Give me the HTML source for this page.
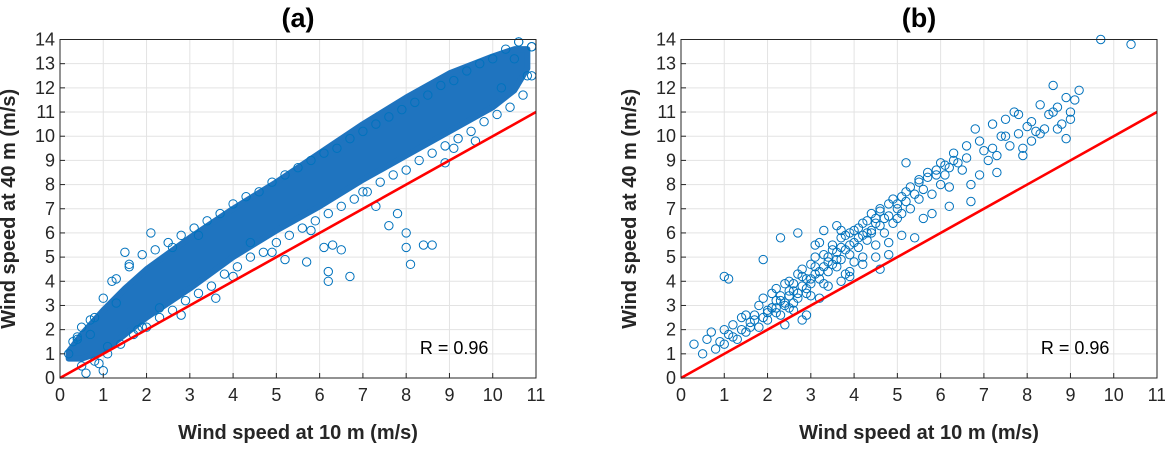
<!DOCTYPE html>
<html><head><meta charset="utf-8"><style>
body{margin:0;background:#fff;font-family:"Liberation Sans",Arial,sans-serif}
svg text{font-family:"Liberation Sans",Arial,sans-serif}
</style></head><body>
<svg id="c" width="1165" height="445" xmlns="http://www.w3.org/2000/svg"></svg>
<script>
// Panel (a) data: dense band envelope plus individual visible points
const bandX=[0.2,0.5,1,1.5,2,3,4,5,6,7,8,9,10,10.5,10.8];
const bandUpper=[1.1,1.8,2.8,3.7,4.5,5.8,7.0,8.1,9.3,10.5,11.6,12.6,13.3,13.6,13.6];
const bandLower=[0.8,0.8,1.1,1.8,2.5,3.7,5.0,6.1,7.1,8.2,9.2,10.2,11.2,11.9,12.8];
const aX=[0.2,0.3,0.5,0.6,0.8,1.0,1.2,1.5,1.6,2.1,1.3,0.9,0.4,5.2,4.4,5.7,6.1,6.3,6.2,6.2,6.7,6.5,8.1,8.0,8.4,8.6,7.8,7.6,8.0,7.3,9.1,10.5,10.9,10.8,10.2,3.2,2.6,2.8,4.0,4.9,5.8,7.0,8.9,9.6,1.1,1.8,2.3,3.6,10.6,1.9,0.7,
 0.4,0.7,1.0,1.3,1.6,1.9,2.2,2.5,2.8,3.1,3.4,3.7,4.0,4.3,4.6,4.9,5.2,5.5,5.8,6.1,6.4,6.7,7.0,7.3,7.6,7.9,8.2,8.5,8.8,9.1,9.4,9.7,10.0,10.3,10.6,10.9,
 0.5,0.8,1.1,1.4,1.7,2.0,2.3,2.6,2.9,3.2,3.5,3.8,4.1,4.4,4.7,5.0,5.3,5.6,5.9,6.2,6.5,6.8,7.1,7.4,7.7,8.0,8.3,8.6,8.9,9.2,9.5,9.8,10.1,10.4,10.7,10.9];
const aY=[1.0,1.5,2.1,0.2,2.5,0.3,4.0,5.2,4.7,6.0,3.1,0.6,1.6,4.9,5.6,4.8,5.4,5.5,4.4,4.0,4.2,5.3,4.7,5.4,5.5,5.5,6.8,6.3,6.0,7.1,9.5,13.2,13.7,12.5,12.0,5.9,5.4,2.6,4.2,5.2,6.1,7.7,8.9,9.8,1.3,2.0,2.9,3.3,13.9,2.1,1.8,
 1.7,2.4,3.3,4.1,4.6,5.1,5.3,5.6,5.9,6.2,6.5,6.8,7.2,7.5,7.7,8.1,8.4,8.7,9.0,9.3,9.5,9.9,10.2,10.5,10.8,11.1,11.4,11.7,12.1,12.3,12.7,13.0,13.2,13.6,13.9,13.7,
 0.5,0.7,1.0,1.4,1.8,2.1,2.5,2.8,3.2,3.5,3.8,4.3,4.6,5.0,5.2,5.6,5.9,6.2,6.5,6.8,7.1,7.4,7.7,8.1,8.4,8.6,9.0,9.3,9.6,9.9,10.2,10.6,10.9,11.2,11.7,12.5];
// Panel (b) data
const bX=[0.3,0.5,0.6,0.7,0.8,0.9,1.0,1.0,1.1,1.2,1.3,1.4,1.5,1.5,1.6,1.7,1.8,1.8,1.9,1.9,2.0,2.0,2.1,2.1,2.2,2.2,2.3,2.3,2.4,2.4,2.5,2.5,2.5,2.6,2.6,2.7,2.7,2.8,2.8,2.9,2.9,3.0,3.0,3.0,3.1,3.1,3.2,3.2,3.3,3.3,3.4,3.4,3.5,3.5,3.6,3.6,3.7,3.7,3.8,3.8,3.9,3.9,4.0,4.0,4.1,4.1,4.2,4.2,4.3,4.3,4.4,4.5,4.5,4.6,4.6,4.7,4.8,4.8,4.9,5.0,5.0,5.1,5.1,5.2,5.2,5.3,5.4,5.5,5.5,5.6,5.7,5.8,5.9,6.0,6.0,6.1,6.2,6.3,6.5,6.6,6.8,7.0,7.1,7.2,7.3,7.4,7.5,7.6,7.7,7.8,8.0,8.1,8.2,8.4,8.5,8.6,8.7,8.8,9.0,9.1,9.2,9.7,10.4,1.0,1.1,2.7,2.3,3.3,3.7,4.8,5.4,6.7,2.8,2.2,3.9,4.6,1.9,3.1,3.6,4.4,5.8,6.2,6.9,7.9,8.3,8.9,9.0,
 1.2,1.4,1.6,1.7,2.0,2.1,2.2,2.3,2.4,2.5,2.6,2.7,2.8,2.9,3.0,3.1,3.2,3.3,3.4,3.5,3.6,3.7,3.8,3.9,4.0,4.1,4.2,4.3,4.4,4.5,4.6,4.7,4.9,5.0,5.2,5.3,5.5,5.7,5.9,6.1,6.3,6.4,6.6,6.9,7.2,7.5,7.8,8.1,8.3,8.6,8.9,2.4,2.6,2.9,3.2,3.4,3.7,3.9,4.2,4.5,4.8,5.1,5.6,6.2,6.7,7.3,7.9,8.7];
const bY=[1.4,1.0,1.6,1.9,1.2,1.5,1.4,2.0,1.8,2.2,1.6,2.5,2.6,1.9,2.3,2.6,2.1,3.0,2.5,3.3,2.8,2.4,3.5,2.9,2.7,3.7,3.2,2.6,3.9,3.0,3.4,2.9,4.0,3.6,3.1,4.3,3.3,3.8,4.5,3.5,4.1,3.9,4.7,3.4,4.3,5.0,4.1,5.6,4.6,3.9,5.0,4.4,4.7,5.5,5.2,4.6,5.8,4.9,5.3,4.3,6.0,5.1,5.6,4.8,6.2,5.4,5.9,5.0,6.5,5.7,6.1,6.6,5.5,6.3,6.9,6.0,6.7,7.2,6.4,7.0,6.6,7.5,6.8,7.3,8.9,7.0,7.6,7.4,8.1,7.8,8.3,7.6,8.6,8.0,8.9,8.4,8.7,9.0,8.6,9.1,10.3,9.4,9.0,9.5,9.2,10.0,10.7,9.6,11.0,10.1,10.4,9.8,10.2,10.3,10.9,12.1,11.2,10.5,11.0,11.5,11.9,14.0,13.8,4.2,4.1,6.0,5.8,6.1,6.1,5.1,5.8,7.3,2.4,2.9,4.2,4.5,4.9,5.5,6.3,6.0,6.8,7.9,8.4,9.5,10.1,9.9,10.7,
 1.7,2.0,2.1,2.4,2.7,2.9,3.2,3.4,3.1,3.6,3.9,3.5,4.2,3.7,4.1,4.6,4.4,5.1,4.8,5.3,4.9,5.4,5.9,5.5,6.1,5.8,6.4,6.0,6.8,6.4,7.0,6.6,7.4,7.2,7.7,7.9,8.2,8.5,8.4,8.8,9.3,8.9,9.6,9.8,10.5,10.0,10.9,10.6,11.3,11.0,11.6,2.2,2.8,2.6,3.3,3.8,4.0,4.4,4.7,5.0,5.6,5.9,6.6,7.1,8.0,8.5,9.2,10.3];

const S=document.getElementById('c');
const NS='http://www.w3.org/2000/svg';
function mk(tag,attrs,parent){const e=document.createElementNS(NS,tag);for(const k in attrs)e.setAttribute(k,attrs[k]);(parent||S).appendChild(e);return e;}
const Y0=378,Y1=39.5;
function yS(v){return Y0-(v/14)*(Y0-Y1);}
function panel(L,R,name,title,px,py,band){
  const g=mk('g',{});
  
  
  const xS=v=>L+(v/11)*(R-L);
  for(let i=1;i<11;i++){const l=mk('line',{x1:xS(i),x2:xS(i),y1:Y1,y2:Y0,stroke:'#e3e3e3','stroke-width':1},g);}
  for(let i=1;i<14;i++){const l=mk('line',{x1:L,x2:R,y1:yS(i),y2:yS(i),stroke:'#e3e3e3','stroke-width':1},g);}
  if(band){let d='';bandX.forEach((x,i)=>{d+=(i?'L':'M')+xS(x)+','+yS(bandUpper[i]);});
    for(let i=bandX.length-1;i>=0;i--)d+='L'+xS(bandX[i])+','+yS(bandLower[i]);
    const p=mk('path',{d:d+'Z',fill:'#1f74bf',stroke:'#1f74bf','stroke-width':6,'stroke-linejoin':'round'},g);
    }
  px.forEach((x,i)=>{const c=mk('circle',{cx:xS(x),cy:yS(py[i]),r:4.2,fill:'none',stroke:'#0072BD','stroke-width':1},g);
    });
  const rl=mk('line',{x1:xS(0),y1:yS(0),x2:xS(11),y2:yS(11),stroke:'#ff0000','stroke-width':2.6},g);
  
  const box=mk('rect',{x:L,y:Y1,width:R-L,height:Y0-Y1,fill:'none',stroke:'#262626','stroke-width':1},g);
  
  for(let i=0;i<=11;i++){const t=mk('text',{x:xS(i),y:Y0+23,'text-anchor':'middle','font-size':18,fill:'#262626'},g);t.textContent=i;
    
    mk('line',{x1:xS(i),x2:xS(i),y1:Y0,y2:Y0-5,stroke:'#262626'},g);}
  for(let i=0;i<=14;i++){const t=mk('text',{x:L-5,y:yS(i)+6,'text-anchor':'end','font-size':18,fill:'#262626'},g);t.textContent=i;
    
    mk('line',{x1:L,x2:L+5,y1:yS(i),y2:yS(i),stroke:'#262626'},g);}
  const tt=mk('text',{x:(L+R)/2,y:27,'text-anchor':'middle','font-size':27,'font-weight':'bold',fill:'#000'},g);tt.textContent=title;
  
  const xl=mk('text',{x:(L+R)/2,y:439,'text-anchor':'middle','font-size':20,'font-weight':'bold',fill:'#262626'},g);xl.textContent='Wind speed at 10 m (m/s)';
  
  const yl=mk('text',{x:0,y:0,'text-anchor':'middle','font-size':20,'font-weight':'bold',fill:'#262626',transform:`translate(${L-45},${(Y0+Y1)/2}) rotate(-90)`},g);yl.textContent='Wind speed at 40 m (m/s)';
  
  const rt=mk('text',{x:xS(9.9),y:354,'text-anchor':'end','font-size':18,fill:'#000'},g);rt.textContent='R = 0.96';
  
}
panel(60,536,'panel-a','(a)',aX,aY,true);
panel(681,1157,'panel-b','(b)',bX,bY,false);
</script>
</body></html>
